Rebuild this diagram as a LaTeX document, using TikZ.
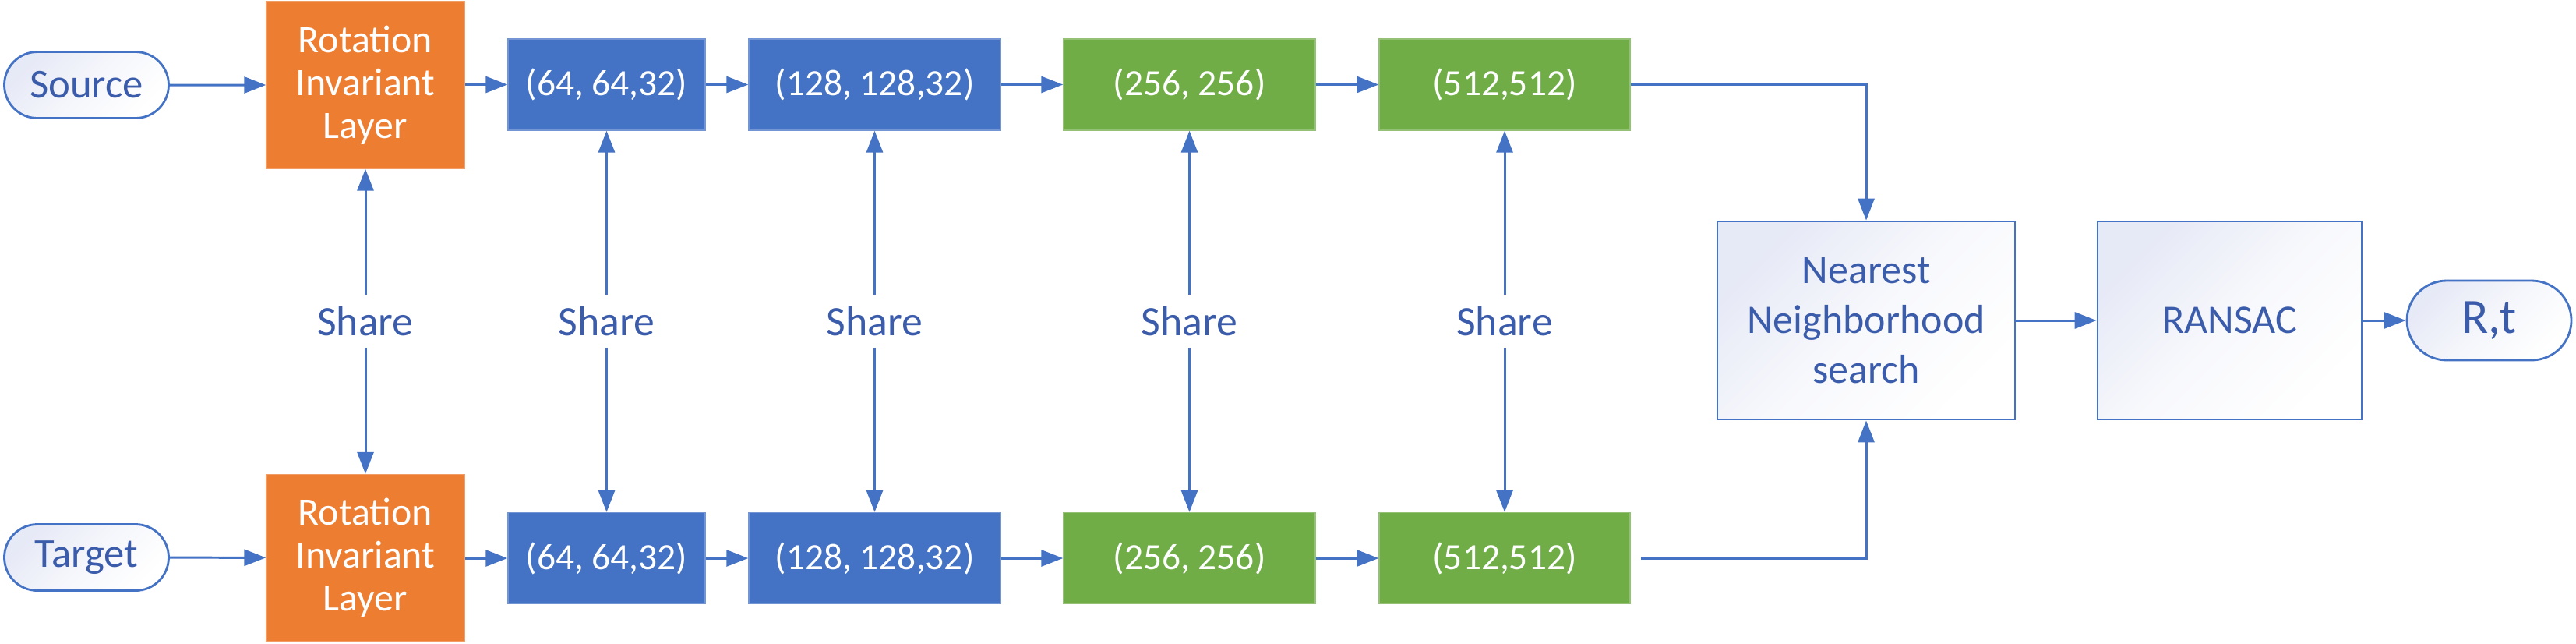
\documentclass[tikz,border=0pt]{standalone}
\usepackage{fontspec}
\setmainfont{Carlito}
\usetikzlibrary{arrows.meta,shapes.misc,positioning}
\definecolor{orangeF}{HTML}{ED7D31}
\definecolor{blueF}{HTML}{4472C4}
\definecolor{greenF}{HTML}{70AD47}
\definecolor{lineC}{HTML}{4472C4}
\definecolor{txtC}{RGB}{59,92,170}
\definecolor{shadeC}{RGB}{230,233,246}
\tikzset{
  conn/.style={draw=lineC, line width=0.85pt, -{Triangle[length=0.28cm,width=0.21cm]}},
  layerbox/.style={rectangle, minimum width=#1, minimum height=1.17cm, inner sep=0pt,
    text=white, font=\fontsize{13.5pt}{16pt}\selectfont},
  bluebox/.style={layerbox=#1, fill=blueF, draw=blueF!75!white, line width=0.4pt},
  greenbox/.style={layerbox=#1, fill=greenF, draw=greenF!75!white, line width=0.4pt},
  rotbox/.style={rectangle, minimum width=2.54cm, minimum height=2.14cm, inner sep=0pt,
    fill=orangeF, draw=orangeF!75!white, line width=0.4pt, text=white, align=center,
    font=\fontsize{14.2pt}{15.7pt}\selectfont},
  pill/.style={rounded rectangle, draw=lineC, line width=0.8pt, top color=shadeC,
    bottom color=white, middle color=white!60!shadeC, shading angle=45, inner sep=0pt, text=txtC},
  procbox/.style={rectangle, draw=lineC, line width=0.8pt, top color=shadeC,
    bottom color=white, middle color=white!70!shadeC, shading angle=45, inner sep=0pt, text=txtC, align=center,
    minimum height=2.54cm, font=\fontsize{14.8pt}{18.2pt}\selectfont},
  sharelbl/.style={text=txtC, font=\fontsize{15.3pt}{18pt}\selectfont, inner xsep=0pt,
    inner ysep=0.15cm, text height=0.36cm, text depth=0cm},
}
\begin{document}
\begin{tikzpicture}
\useasboundingbox (0,0) rectangle (33.06,-8.25);
% top row
\node[pill, minimum width=2.11cm, minimum height=0.85cm, font=\fontsize{15pt}{18pt}\selectfont] (src) at (1.11,-1.09) {Source};
\node[rotbox] (rotA) at (4.69,-1.09) {Rotation\\Invariant\\Layer};
\node[bluebox=2.53cm] (b1A) at (7.785,-1.085) {(64, 64,32)};
\node[bluebox=3.23cm] (b2A) at (11.225,-1.085) {(128, 128,32)};
\node[greenbox=3.23cm] (g1A) at (15.265,-1.085) {(256, 256)};
\node[greenbox=3.22cm] (g2A) at (19.31,-1.085) {(512,512)};
% bottom row
\node[pill, minimum width=2.11cm, minimum height=0.85cm, font=\fontsize{15pt}{18pt}\selectfont] (tgt) at (1.11,-7.15) {Target};
\node[rotbox] (rotB) at (4.69,-7.155) {Rotation\\Invariant\\Layer};
\node[bluebox=2.53cm] (b1B) at (7.785,-7.16) {(64, 64,32)};
\node[bluebox=3.23cm] (b2B) at (11.225,-7.16) {(128, 128,32)};
\node[greenbox=3.23cm] (g1B) at (15.265,-7.16) {(256, 256)};
\node[greenbox=3.22cm] (g2B) at (19.31,-7.16) {(512,512)};
% right part
\node[procbox, minimum width=3.82cm] (nn) at (23.95,-4.11) {Nearest\\Neighborhood\\search};
\node[procbox, minimum width=3.39cm] (ran) at (28.615,-4.11) {RANSAC};
\node[pill, minimum width=2.11cm, minimum height=1.02cm, font=\fontsize{18pt}{21pt}\selectfont] (rt) at (31.945,-4.11) {R,t};
% share labels
\node[sharelbl] (s1) at (4.69,-4.12) {Share};
\node[sharelbl] (s2) at (7.785,-4.12) {Share};
\node[sharelbl] (s3) at (11.225,-4.12) {Share};
\node[sharelbl] (s4) at (15.265,-4.12) {Share};
\node[sharelbl] (s5) at (19.31,-4.12) {Share};
% horizontal flow
\draw[conn] (src) -- (rotA);
\draw[conn] (rotA.east |- b1A) -- (b1A);
\draw[conn] (b1A) -- (b2A);
\draw[conn] (b2A) -- (g1A);
\draw[conn] (g1A) -- (g2A);
\draw[conn] (tgt) -- (rotB);
\draw[conn] (rotB.east |- b1B) -- (b1B);
\draw[conn] (b1B) -- (b2B);
\draw[conn] (b2B) -- (g1B);
\draw[conn] (g1B) -- (g2B);
\draw[conn] (g2A.east) -| (nn.north);
\draw[conn, shorten <=0.13cm] (g2B.east) -| (nn.south);
\draw[conn] (nn) -- (ran);
\draw[conn] (ran) -- (rt);
% share connectors
\foreach \s/\a/\b in {s1/rotA/rotB, s2/b1A/b1B, s3/b2A/b2B, s4/g1A/g1B, s5/g2A/g2B}{
  \draw[conn] (\s.north) -- (\a.south);
  \draw[conn] (\s.south) -- (\b.north);
}
\end{tikzpicture}
\end{document}
